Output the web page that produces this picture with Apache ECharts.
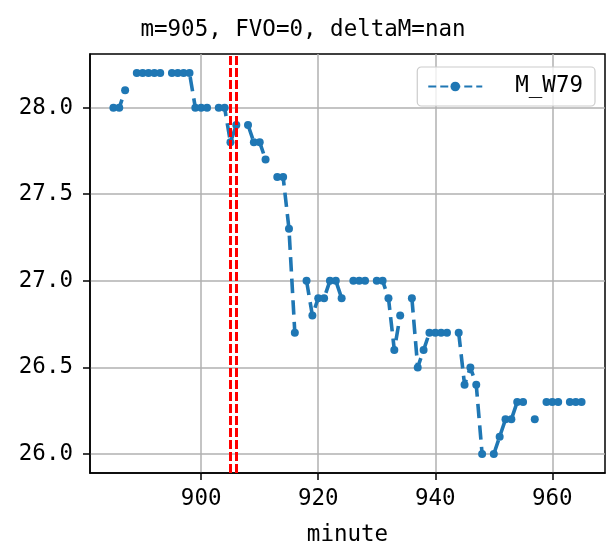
<!DOCTYPE html>
<html><head><meta charset="utf-8">
<script src="https://cdn.jsdelivr.net/npm/echarts@6/dist/echarts.min.js"></script>
<style>html,body{margin:0;padding:0;background:#fff}#c{width:606px;height:556px}</style>
</head><body><div id="c"></div>
<script>
var titleText = 'm=905, FVO=0, deltaM=nan';
var seriesName = 'M_W79';
var xName = 'minute';
var minutes = [];
for (var m = 885; m <= 965; m++) minutes.push(m);
var values = [
  28.0, 28.0, 28.1, null, 28.2, 28.2, 28.2, 28.2, 28.2, null,
  28.2, 28.2, 28.2, 28.2, 28.0, 28.0, 28.0, null, 28.0, 28.0,
  27.8, 27.9, null, 27.9, 27.8, 27.8, 27.7, null, 27.6, 27.6,
  27.3, 26.7, null, 27.0, 26.8, 26.9, 26.9, 27.0, 27.0, 26.9,
  null, 27.0, 27.0, 27.0, null, 27.0, 27.0, 26.9, 26.6, 26.8,
  null, 26.9, 26.5, 26.6, 26.7, 26.7, 26.7, 26.7, null, 26.7,
  26.4, 26.5, 26.4, 26.0, null, 26.0, 26.1, 26.2, 26.2, 26.3,
  26.3, null, 26.2, null, 26.3, 26.3, 26.3, null, 26.3, 26.3,
  26.3
];
var markers = [905, 906];
var xTicks = [900, 920, 940, 960];
var yTicks = [26.0, 26.5, 27.0, 27.5, 28.0];

var FONT = 'DejaVu Sans Mono';
var FS = 22.5;
var data = minutes.map(function (m, i) { return [m, values[i] === null ? '-' : values[i]]; });

var chart = echarts.init(document.getElementById('c'), null, {renderer: 'canvas'});
chart.setOption({
  animation: false,
  backgroundColor: '#fff',
  title: {
    text: titleText, left: 'center', top: 14,
    textStyle: {fontFamily: FONT, fontSize: FS, fontWeight: 'normal', color: '#000'}
  },
  legend: {
    data: [seriesName], right: 11, top: 67,
    itemWidth: 54, itemHeight: 12,
    padding: [8, 12, 8, 10],
    borderColor: '#cccccc', borderWidth: 1.2, borderRadius: 4,
    backgroundColor: 'rgba(255,255,255,0.8)',
    textStyle: {fontFamily: FONT, fontSize: FS, color: '#000', padding: [0, 0, 0, 28]}
  },
  grid: {left: 90, right: 1, top: 54, bottom: 83, show: true, borderColor: '#000', borderWidth: 1.5, backgroundColor: 'transparent'},
  xAxis: {
    type: 'value', min: 881, max: 969,
    name: xName, nameLocation: 'middle', nameGap: 51,
    nameTextStyle: {fontFamily: FONT, fontSize: FS, color: '#000'},
    axisLine: {show: true, onZero: false, lineStyle: {color: '#000', width: 1.5}},
    axisTick: {show: true, inside: false, length: 7, customValues: xTicks, lineStyle: {color: '#000', width: 1.5}},
    axisLabel: {customValues: xTicks, margin: 15, fontFamily: FONT, fontSize: FS, color: '#000'},
    splitLine: {show: true, lineStyle: {color: '#b0b0b0', width: 1.5}}
  },
  yAxis: {
    type: 'value', min: 25.89, max: 28.31,
    axisLine: {show: true, onZero: false, lineStyle: {color: '#000', width: 1.5}},
    axisTick: {show: true, inside: false, length: 7, customValues: yTicks, lineStyle: {color: '#000', width: 1.5}},
    axisLabel: {customValues: yTicks, margin: 17, fontFamily: FONT, fontSize: FS, color: '#000',
      formatter: function (v) { return v.toFixed(1); }},
    splitLine: {show: true, lineStyle: {color: '#b0b0b0', width: 1.5}}
  },
  series: [{
    name: seriesName, type: 'line', data: data, connectNulls: false,
    symbol: 'circle', symbolSize: 8, showSymbol: true,
    itemStyle: {color: '#1f77b4'},
    lineStyle: {color: '#1f77b4', width: 3.6, type: 'dashed'},
    emphasis: {disabled: true},
    markLine: {
      silent: true, symbol: 'none', label: {show: false},
      lineStyle: {color: '#ff0000', width: 3, type: [9, 3]},
      data: markers.map(function (v) { return {xAxis: v}; })
    },
    z: 3
  }]
});
</script></body></html>
